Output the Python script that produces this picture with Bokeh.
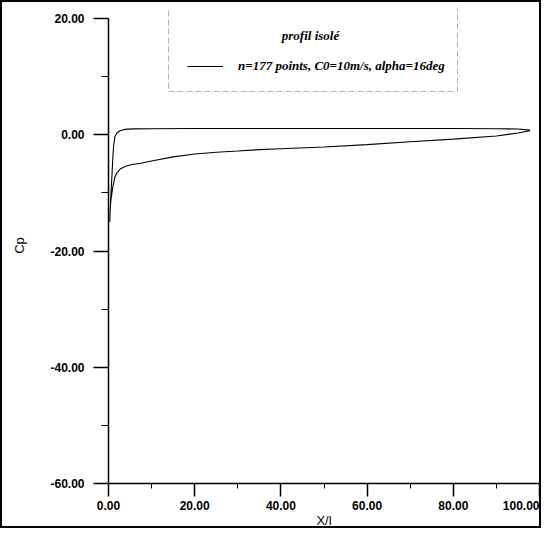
from bokeh.plotting import figure
from bokeh.models import Range1d, FixedTicker, NumeralTickFormatter, BoxAnnotation, Label, Legend, LegendItem
from bokeh.embed import file_html
from bokeh.resources import INLINE

# Upper side (pressure side, Cp -> +1)
x_upper = [0.3, 0.5, 0.8, 1.0, 1.2, 1.5, 2.0, 2.7, 3.5, 4.5, 6, 10, 20, 30, 40, 50, 60, 70, 80, 90, 95, 97.8]
cp_upper = [-15, -11, -7, -4, -1.8, -0.3, 0.35, 0.7, 0.88, 0.98, 1.02, 1.05, 1.07, 1.07, 1.07, 1.07, 1.08, 1.08, 1.07, 1.05, 1.0, 0.8]
# Lower side (suction)
x_lower = [0.3, 0.4, 0.6, 0.8, 1.0, 1.5, 2.0, 2.7, 4, 5.5, 7.5, 10, 15, 20, 25, 30, 35, 40, 50, 60, 70, 80, 90, 95, 97.8]
cp_lower = [-15, -12.5, -11, -10, -9, -7.2, -6.5, -5.9, -5.4, -5.1, -4.9, -4.5, -3.8, -3.3, -3.0, -2.8, -2.55, -2.4, -2.1, -1.7, -1.2, -0.75, -0.2, 0.3, 0.7]

x_ticks = [0, 20, 40, 60, 80, 100]
x_minor = [10, 30, 50, 70, 90]
y_ticks = [-60, -40, -20, 0, 20]
y_minor = [-50, -30, -10, 10]

title_text = "profil isolé"
series_label = "n=177 points, C0=10m/s, alpha=16deg"

p = figure(width=541, height=528, x_range=Range1d(0, 100), y_range=Range1d(-60, 21.9),
           output_backend="svg", toolbar_location=None,
           min_border_left=106, min_border_right=4, min_border_top=5, min_border_bottom=41)
p.styles = {"border": "2px solid black"}
p.outline_line_color = None
p.grid.visible = False
p.background_fill_color = "white"
p.border_fill_color = "white"

xs = list(reversed(x_lower)) + x_upper
ys = list(reversed(cp_lower)) + cp_upper
r = p.line(xs, ys, line_color="black", line_width=1.1)

for ax in (p.xaxis[0], p.yaxis[0]):
    ax.axis_line_color = "black"
    ax.axis_line_width = 1.5
    ax.major_tick_line_color = "black"
    ax.major_tick_line_width = 1.5
    ax.minor_tick_line_color = "black"
    ax.major_tick_in = 0
    ax.minor_tick_in = 0
    ax.formatter = NumeralTickFormatter(format="0.00")
    ax.major_label_text_font = "Liberation Sans"
    ax.major_label_text_font_style = "bold"
    ax.major_label_text_font_size = "12px"
    ax.major_label_text_color = "black"
    ax.axis_label_text_font = "Liberation Sans"
    ax.axis_label_text_font_style = "normal"
    ax.axis_label_text_font_size = "13px"
    ax.axis_label_text_color = "black"

p.xaxis.ticker = FixedTicker(ticks=x_ticks, minor_ticks=x_minor)
p.yaxis.ticker = FixedTicker(ticks=y_ticks, minor_ticks=y_minor)
p.xaxis.bounds = (0, 100)
p.yaxis.bounds = (-60, 20)
p.xaxis.major_tick_out = 13
p.yaxis.major_tick_out = 15
p.xaxis.minor_tick_out = 5
p.yaxis.minor_tick_out = 7
p.xaxis.major_label_standoff = 4
p.yaxis.major_label_standoff = 9
p.xaxis.axis_label = "X/l"
p.xaxis.axis_label_standoff = 0
p.yaxis.axis_label = "Cp"
p.yaxis.axis_label_standoff = 20

box = BoxAnnotation(left=60, right=349, top=477, bottom=392,
                    left_units="screen", right_units="screen", top_units="screen", bottom_units="screen",
                    fill_alpha=0, line_color="black", line_width=1, line_dash="6 3")
p.add_layout(box)

title = Label(x=202, y=448, x_units="screen", y_units="screen", text=title_text,
              text_align="center", text_baseline="middle", text_font="Liberation Serif",
              text_font_style="bold italic", text_font_size="13px", text_color="black")
p.add_layout(title)

legend = Legend(items=[LegendItem(label=series_label, renderers=[r])], location=(79, 407),
                border_line_color=None, background_fill_alpha=0, padding=0, margin=0,
                glyph_width=36, label_standoff=15, label_text_font="Liberation Serif",
                label_text_font_style="bold italic", label_text_font_size="13px", label_text_color="black")
p.add_layout(legend)

open("out.html", "w").write(file_html(p, INLINE))
